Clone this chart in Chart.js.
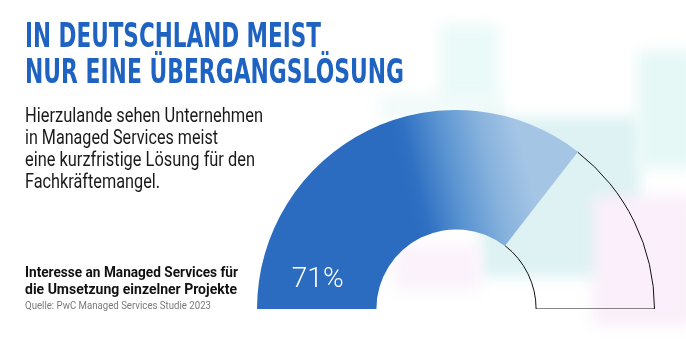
<!DOCTYPE html>
<html lang="de">
<head>
<meta charset="utf-8">
<script src="https://cdn.jsdelivr.net/npm/chart.js@4/dist/chart.umd.min.js"></script>
<style>
  html, body { margin:0; padding:0; background:#fff; }
  #stage { position:relative; width:686px; height:343px; overflow:hidden; background:#fff; }
  .deco { position:absolute; filter:blur(7px); }
  .txt { position:absolute; left:25px; white-space:nowrap; transform-origin:0 0; }
  .title { font-family:"Liberation Sans Narrow","DejaVu Sans Condensed","Roboto",sans-serif; font-weight:700; font-size:34px; line-height:34px; color:#1e62c2; }
  .sub { font-family:"Roboto","Open Sans",sans-serif; font-size:20px; line-height:22px; color:#1a1a1a; }
  .cap { font-family:"Roboto","Open Sans",sans-serif; font-weight:700; font-size:15px; line-height:17px; color:#111; }
  .src { font-family:"Roboto","Open Sans",sans-serif; font-size:11px; line-height:12px; color:#7a7a7a; }
  #gauge { position:absolute; left:257px; top:110px; }
</style>
</head>
<body>
<div id="stage">
  <div class="deco" style="left:440px;top:24px;width:58px;height:92px;background:#eafaf8;"></div>
  <div class="deco" style="left:380px;top:96px;width:120px;height:22px;background:#f0faf9;"></div>
  <div class="deco" style="left:480px;top:117px;width:160px;height:160px;background:#def2f3;"></div>
  <div class="deco" style="left:637px;top:50px;width:60px;height:118px;background:#e6f8f6;"></div>
  <div class="deco" style="left:593px;top:196px;width:100px;height:130px;background:#faeffa;"></div>
  <div class="deco" style="left:395px;top:246px;width:85px;height:44px;background:#fbf2fb;"></div>

  <div class="txt title" data-w="296" style="top:18px;">IN DEUTSCHLAND MEIST</div>
  <div class="txt title" data-w="379" style="top:54px;">NUR EINE ÜBERGANGSLÖSUNG</div>

  <div class="txt sub" data-w="238" style="top:104px;">Hierzulande sehen Unternehmen</div>
  <div class="txt sub" data-w="193" style="top:126px;">in Managed Services meist</div>
  <div class="txt sub" data-w="230" style="top:148px;">eine kurzfristige Lösung für den</div>
  <div class="txt sub" data-w="135" style="top:170px;">Fachkräftemangel.</div>

  <div class="txt cap" data-w="213" style="top:264px;">Interesse an Managed Services für</div>
  <div class="txt cap" data-w="212" style="top:281px;">die Umsetzung einzelner Projekte</div>
  <div class="txt src" data-w="186" style="top:300px;">Quelle: PwC Managed Services Studie 2023</div>

  <canvas id="gauge" width="398" height="199"></canvas>
</div>
<script>
const categories = ["Interesse an Managed Services", "Kein Interesse"];
const shareValues = [71, 29];
const valueLabel = "71%";

function fitTexts() {
  document.querySelectorAll('.txt').forEach(el => {
    el.style.transform = 'none';
    const w = el.getBoundingClientRect().width;
    const target = parseFloat(el.dataset.w);
    if (w > 0) el.style.transform = 'scaleX(' + (target / w) + ')';
  });
}
fitTexts();
if (document.fonts && document.fonts.ready) document.fonts.ready.then(fitTexts);

function segmentColor(ctx) {
  if (ctx.dataIndex !== 0) return 'rgba(255,255,255,0)';
  const chart = ctx.chart;
  const area = chart.chartArea;
  if (!area) return '#2c6cc0';
  const R = area.width / 2;
  const cx = area.left + R;
  const g = chart.ctx.createLinearGradient(cx - 0.2 * R, area.bottom - 0.4 * R, cx + 0.4 * R, area.bottom - 0.55 * R);
  g.addColorStop(0, '#2c6cc0');
  g.addColorStop(0.1, '#3071c3');
  g.addColorStop(0.4, '#5c95d2');
  g.addColorStop(0.7, '#87b2dd');
  g.addColorStop(1, '#a5c5e5');
  return g;
}

const gaugeDecor = {
  id: 'gaugeDecor',
  afterDatasetsDraw(chart) {
    const meta = chart.getDatasetMeta(0);
    const c = chart.ctx;
    const rest = meta.data[1];
    if (rest) {
      const p = rest.getProps(['x', 'y', 'startAngle', 'endAngle', 'innerRadius', 'outerRadius'], true);
      c.save();
      c.strokeStyle = '#111';
      c.lineWidth = 1;
      c.beginPath();
      c.arc(p.x, p.y, p.outerRadius - 0.5, p.startAngle, p.endAngle);
      c.arc(p.x, p.y, p.innerRadius + 0.5, p.endAngle, p.startAngle, true);
      c.stroke();
      c.restore();
    }
    const main = meta.data[0];
    if (main) {
      const p = main.getProps(['x', 'y', 'innerRadius', 'outerRadius'], true);
      c.save();
      c.fillStyle = '#ffffff';
      c.font = '300 28px Roboto, "Open Sans", sans-serif';
      c.textAlign = 'center';
      c.textBaseline = 'alphabetic';
      c.fillText(valueLabel, p.x - (p.innerRadius + p.outerRadius) / 2 + 1, p.y - 22);
      c.restore();
    }
  }
};

new Chart(document.getElementById('gauge'), {
  type: 'doughnut',
  data: {
    labels: categories,
    datasets: [{
      data: shareValues,
      backgroundColor: segmentColor,
      borderWidth: 0
    }]
  },
  options: {
    responsive: false,
    animation: false,
    devicePixelRatio: 1,
    rotation: -90,
    circumference: 180,
    cutout: '40%',
    layout: { padding: 0 },
    plugins: { legend: { display: false }, tooltip: { enabled: false } }
  },
  plugins: [gaugeDecor]
});
</script>
</body>
</html>
